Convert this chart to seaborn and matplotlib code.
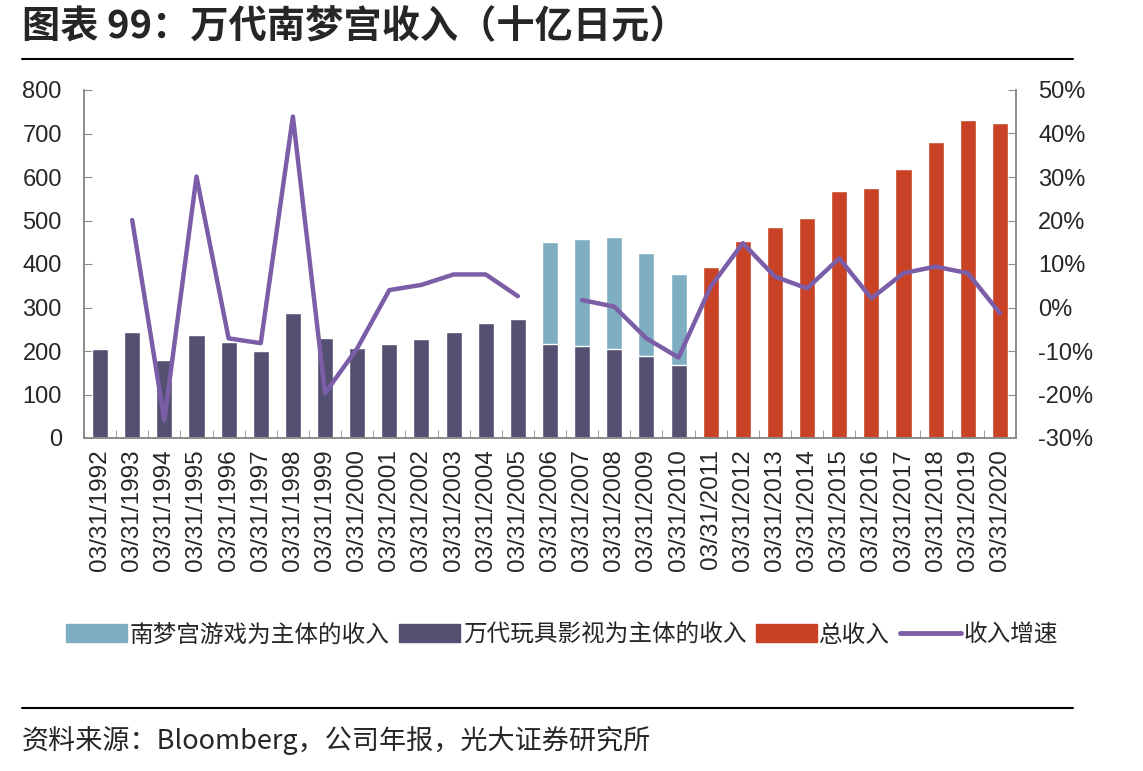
import numpy as np
import pandas as pd
import matplotlib
matplotlib.use('Agg')
import matplotlib.pyplot as plt
import seaborn as sns
from matplotlib.patches import Patch
from matplotlib.lines import Line2D

# Data (billion yen)
years = list(range(1992, 2021))
labels = ['03/31/%d' % y for y in years]

# Bandai / toys & film based revenue (1992-2010)
bandai_rev = [204, 244, 179, 236, 220, 200, 288, 231, 208, 215, 228, 244, 264, 273,
              216, 212, 204, 188, 168] + [np.nan] * 10
# Namco game based revenue (2006-2010), stacked on top of bandai part
namco_rev = [np.nan] * 14 + [234, 245, 259, 238, 209] + [np.nan] * 10
# total revenue after the merger (2011-2020)
total_rev = [np.nan] * 19 + [393, 454, 486, 506, 567, 575, 619, 680, 732, 724]
# revenue growth, %
growth = [np.nan, 20.1, -25.9, 30.1, -7.1, -8.2, 43.9, -19.7, -9.4, 4.0, 5.2, 7.6, 7.6, 2.6,
          np.nan, 1.7, 0.2, -7.1, -11.5, 4.8, 14.8, 7.1, 4.4, 11.3, 2.1, 7.9, 9.4, 7.9, -1.3]

c_namco = '#7FADC2'
c_bandai = '#545071'
c_total = '#C94226'
c_line = '#7B5EA7'

sns.set_style('white')
plt.rcParams['font.family'] = ['Noto Sans CJK SC', 'DejaVu Sans']
num_font = ['Liberation Sans', 'DejaVu Sans']

df = pd.DataFrame({'date': labels,
                   'stack_top': np.array(bandai_rev) + np.array(namco_rev),
                   'bandai': bandai_rev,
                   'total': total_rev,
                   'growth': growth})

fig = plt.figure(figsize=(11.43, 7.71), dpi=100)
ax = fig.add_axes([84 / 1143, 1 - 438 / 771, (1016 - 84) / 1143, (438 - 90) / 771])

sns.barplot(data=df, x='date', y='stack_top', order=labels, color=c_namco,
            width=0.5, saturation=1, ax=ax)
sns.barplot(data=df, x='date', y='bandai', order=labels, color=c_bandai,
            width=0.5, saturation=1, ax=ax)
sns.barplot(data=df, x='date', y='total', order=labels, color=c_total,
            width=0.5, saturation=1, ax=ax)

ax.set_xlim(-0.5, len(labels) - 0.5)
ax.set_ylim(0, 800)
ax.set_yticks(np.arange(0, 801, 100))
ax.set_xlabel('')
ax.set_ylabel('')

ax2 = ax.twinx()
ax2.plot(np.arange(len(labels)), df['growth'], color=c_line, lw=3.2, solid_joinstyle='round')
ax2.set_ylim(-30, 50)
ax2.set_yticks(np.arange(-30, 51, 10))
ax2.set_yticklabels(['%d%%' % v for v in np.arange(-30, 51, 10)])

spine_c = '#8C8C8C'
for a in (ax, ax2):
    for s in a.spines.values():
        s.set_color(spine_c)
        s.set_linewidth(1.2)
    a.spines['top'].set_visible(False)

ax.set_xticks(np.arange(len(labels)))
ax.set_xticklabels(labels, rotation=90, fontsize=17.5, family=num_font)
ax.set_xticks(np.arange(-0.5, len(labels), 1), minor=True)
ax.tick_params(axis='x', which='major', length=0, pad=8)
ax.tick_params(axis='x', which='minor', direction='in', length=6, color=spine_c, bottom=True)
ax.tick_params(axis='y', direction='in', length=6, color=spine_c, left=True, pad=16, labelsize=17)
ax2.tick_params(axis='y', direction='in', length=6, color=spine_c, right=True, pad=16, labelsize=17)
for t in ax.get_yticklabels() + ax2.get_yticklabels():
    t.set_family(num_font)

# title and rules
fig.text(22 / 1143, 1 - 27 / 771, '图表 99：万代南梦宫收入（十亿日元）', fontsize=27.5,
         weight='bold', va='center', ha='left')
fig.add_artist(Line2D([22 / 1143, 1073 / 1143], [1 - 59 / 771] * 2, color='black', lw=1.5))
fig.add_artist(Line2D([22 / 1143, 1073 / 1143], [1 - 708 / 771] * 2, color='black', lw=1.5))
fig.text(22 / 1143, 1 - 741 / 771, '资料来源：Bloomberg，公司年报，光大证券研究所', fontsize=19.5,
         va='center', ha='left')

handles = [Patch(color=c_namco), Patch(color=c_bandai), Patch(color=c_total),
           Line2D([], [], color=c_line, lw=3.5)]
names = ['南梦宫游戏为主体的收入', '万代玩具影视为主体的收入', '总收入', '收入增速']
fig.legend(handles, names, loc='center', bbox_to_anchor=(562 / 1143, 1 - 635 / 771), ncol=4,
           frameon=False, fontsize=17, handlelength=2.6, handleheight=0.8,
           handletextpad=0.1, columnspacing=0.4)

fig.savefig('out.png', dpi=100)
